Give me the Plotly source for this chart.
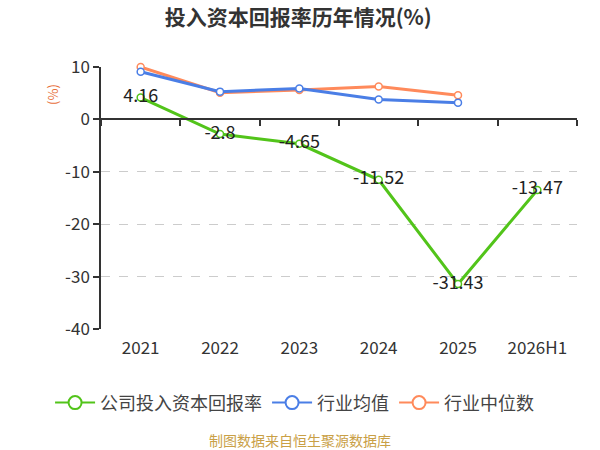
import plotly.graph_objs as go

years = ["2021", "2022", "2023", "2024", "2025", "2026H1"]
company_roic = [4.16, -2.8, -4.65, -11.52, -31.43, -13.47]
industry_avg = [9.1, 5.3, 5.9, 3.8, 3.2, None]
industry_median = [10.0, 5.1, 5.6, 6.3, 4.6, None]
y_ticks = [10, 0, -10, -20, -30, -40]
y_tick_text = ["10", "0", "-10", "-20", "-30", "-40"]

green = "#52c41a"
blue = "#4a7ee6"
orange = "#ff8a5b"
font_cn = "Noto Sans CJK SC"

series = [
    ("公司投入资本回报率", company_roic, green),
    ("行业均值", industry_avg, blue),
    ("行业中位数", industry_median, orange),
]

fig = go.Figure()

# industry lines first, company line on top
for name, vals, color in series[::-1]:
    is_company = vals is company_roic
    fig.add_trace(go.Scatter(
        x=years, y=vals, name=name, mode="lines+markers+text" if is_company else "lines+markers",
        line=dict(color=color, width=3),
        marker=dict(size=7, color="white", line=dict(color=color, width=1.5)),
        text=[str(v) for v in vals] if is_company else None,
        textposition="middle center",
        textfont=dict(size=18, color="#222222", family=font_cn),
        showlegend=False, cliponaxis=False,
    ))

# legend-only entries with bigger symbols
for name, vals, color in series:
    fig.add_trace(go.Scatter(
        x=[None], y=[None], name=name, mode="lines+markers",
        line=dict(color=color, width=2),
        marker=dict(size=13, color="white", line=dict(color=color, width=2)),
    ))

# invisible trace to carry the bottom label axis
fig.add_trace(go.Scatter(x=years, y=company_roic, xaxis="x2", mode="markers",
                         marker=dict(opacity=0), showlegend=False, hoverinfo="skip"))

cat_range = [-0.5, len(years) - 0.5]

fig.update_layout(
    width=600, height=450,
    margin=dict(l=101, r=23, t=67, b=121),
    paper_bgcolor="white", plot_bgcolor="white",
    font=dict(family=font_cn, color="#333333"),
    title=dict(text="<b>投入资本回报率历年情况(%)</b>", x=0.497, xanchor="center",
               y=0.961, yanchor="middle", font=dict(size=21, color="#333333")),
    xaxis=dict(type="category", categoryorder="array", categoryarray=years, range=cat_range,
               anchor="free", position=0.8, showline=True, linecolor="#333333", linewidth=1.5,
               ticks="outside", ticklen=6, tickcolor="#333333", tickwidth=1.5,
               tickson="boundaries", showticklabels=False, showgrid=False, zeroline=False),
    xaxis2=dict(type="category", categoryorder="array", categoryarray=years, range=cat_range,
                overlaying="x", anchor="y", side="bottom",
                showline=False, ticks="", showgrid=False, zeroline=False,
                ticklabelstandoff=7, tickfont=dict(size=17, color="#333333")),
    yaxis=dict(range=[-40, 10], tickvals=y_ticks, ticktext=y_tick_text,
               showline=True, linecolor="#333333", linewidth=1.5,
               ticks="outside", ticklen=6, tickcolor="#333333", tickwidth=1.5,
               showgrid=True, gridcolor="#cccccc", griddash="dash", gridwidth=1,
               zeroline=False, tickfont=dict(size=17, color="#333333")),
    legend=dict(orientation="h", x=-0.107, xanchor="left", y=-0.282, yanchor="middle",
                font=dict(size=18, color="#444444"), itemwidth=40),
    annotations=[
        dict(text="(%)", xref="paper", yref="paper", x=-0.101, y=0.897, textangle=-90,
             xanchor="center", yanchor="middle",
             showarrow=False, font=dict(size=13, color="#e8703a")),
        dict(text="制图数据来自恒生聚源数据库", xref="paper", yref="paper", x=0.418, y=-0.424,
             xanchor="center", yanchor="middle", showarrow=False,
             font=dict(size=14, color="#c9a046")),
    ],
)

# drop the browser's default 8px body margin so the figure sits at the page corner
fig.write_html("out.html", config={"displayModeBar": False},
               post_script="document.body.style.margin='0';")
